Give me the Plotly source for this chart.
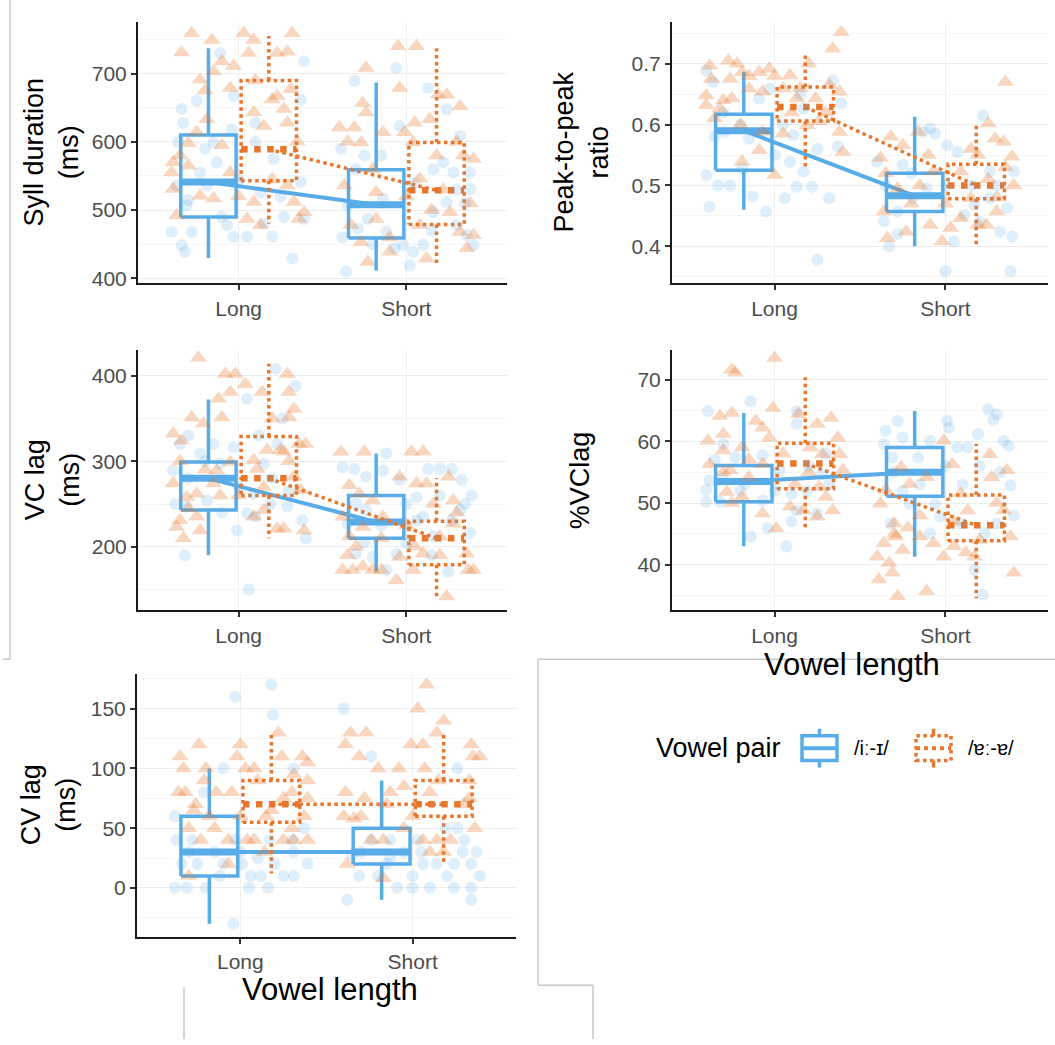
import plotly.graph_objects as go

W, H = 1055, 1045

categories = ["Long", "Short"]
pair_labels = ["/iː-ɪ/", "/ɐː-ɐ/"]

# ---------------- Syll duration (ms) ----------------
# points: (jitter, value)
syll_i_long = [(0.39,718),(-0.11,730),(-0.03,667),(-0.34,648),(-0.25,660),(-0.33,628),(-0.04,618),(0.10,628),
               (-0.13,570),(-0.23,555),(-0.37,536),(-0.31,507),(-0.40,468),(-0.34,449),(-0.32,439),(-0.28,468),
               (-0.07,478),(-0.03,461),(0.05,461),(0.20,461),(0.27,490),(0.32,429),(0.39,487),(0.37,541),
               (0.37,662),(0.21,575),(-0.15,599),(0.13,526),(-0.19,536),(-0.36,600),(-0.20,590),(0.00,545),
               (0.10,600),(0.25,520),(-0.30,515),(0.15,480),(-0.10,490)]
syll_e_long = [(-0.28,759),(-0.16,749),(-0.34,731),(0.03,759),(0.09,749),(0.32,759),(0.06,730),(0.23,730),
               (0.29,732),(-0.10,718),(-0.03,711),(-0.23,691),(-0.15,703),(-0.05,679),(0.31,677),(0.23,667),
               (0.20,662),(0.27,648),(0.09,643),(0.15,623),(0.29,628),(-0.39,570),(-0.35,580),(-0.30,565),
               (-0.39,531),(-0.37,492),(-0.23,521),(-0.15,517),(-0.05,555),(0.09,512),(0.05,487),(0.13,478),
               (0.33,512),(0.36,487),(0.39,497),(0.29,536),(-0.19,633),(-0.25,614),(-0.40,555),(-0.30,598),
               (0.00,520),(0.20,545),(0.35,600),(-0.10,595),(0.10,690),(-0.20,675)]
syll_i_short = [(-0.31,689),(-0.06,708),(0.13,679),(0.24,648),(-0.39,590),(-0.25,580),(-0.04,623),(0.22,570),
                (0.32,609),(0.16,560),(0.28,555),(0.38,555),(0.38,531),(-0.35,507),(-0.29,473),(-0.23,487),
                (-0.12,468),(-0.07,444),(-0.02,449),(0.04,439),(0.10,449),(0.16,497),(0.24,512),(0.30,478),
                (0.36,463),(0.40,449),(-0.36,410),(0.02,419),(-0.14,517),(-0.30,560),(-0.15,580),(0.05,540),
                (0.30,530),(-0.20,450),(0.15,470),(0.35,510),(-0.38,460)]
syll_e_short = [(-0.05,740),(0.06,740),(-0.24,708),(-0.04,679),(0.19,669),(0.24,669),(0.32,652),(-0.26,657),
                (-0.24,643),(-0.40,621),(-0.31,621),(-0.14,614),(-0.01,614),(0.05,628),(0.14,633),(-0.27,599),
                (0.04,599),(0.34,580),(0.40,575),(-0.37,536),(-0.18,526),(0.08,546),(0.18,580),(-0.33,478),
                (-0.27,453),(-0.23,424),(-0.10,439),(0.12,429),(0.08,478),(0.32,468),(0.36,444),(0.40,463),
                (0.26,497),(-0.18,487),(-0.35,600),(-0.20,560),(0.00,520),(0.15,500),(0.30,600),(-0.10,460),
                (0.22,530),(0.38,510)]
syll_i_lo, syll_i_q1, syll_i_med, syll_i_q3, syll_i_hi = [430, 411], [490, 459], [541, 508], [610, 559], [737, 687]
syll_e_lo, syll_e_q1, syll_e_med, syll_e_q3, syll_e_hi = [480, 419], [543, 479], [589, 529], [690, 599], [755, 737]

# ---------------- Peak-to-peak ratio ----------------
ptp_i_long = [(-0.40,0.689),(-0.36,0.670),(-0.40,0.517),(-0.38,0.465),(-0.33,0.500),(-0.26,0.500),(-0.29,0.588),
              (-0.19,0.528),(-0.13,0.482),(-0.05,0.457),(-0.15,0.577),(-0.09,0.643),(-0.03,0.659),(0.05,0.599),
              (0.11,0.583),(0.06,0.479),(0.13,0.498),(0.17,0.523),(0.22,0.498),(0.25,0.378),(0.32,0.479),
              (0.34,0.673),(0.39,0.635),(0.37,0.564),(0.09,0.539),(0.17,0.626),(-0.30,0.620),(-0.20,0.600),
              (0.00,0.550),(0.25,0.560),(-0.35,0.580),(0.15,0.650)]
ptp_e_long = [(-0.38,0.697),(-0.27,0.705),(-0.22,0.700),(-0.40,0.648),(-0.37,0.675),(-0.26,0.675),(-0.19,0.686),
              (-0.09,0.686),(-0.03,0.692),(0.09,0.681),(0.20,0.700),(0.39,0.752),(0.34,0.725),(-0.15,0.659),
              (-0.07,0.654),(0.05,0.659),(0.13,0.643),(0.24,0.643),(0.32,0.665),(0.38,0.654),(-0.40,0.632),
              (-0.32,0.626),(-0.25,0.643),(-0.07,0.588),(0.05,0.585),(0.19,0.599),(0.26,0.605),(0.38,0.588),
              (0.40,0.555),(0.00,0.517),(-0.19,0.539),(-0.09,0.558),(-0.35,0.610),(-0.30,0.640),(-0.15,0.680),
              (0.00,0.680),(0.15,0.660),(0.30,0.620),(-0.20,0.600),(0.10,0.620)]
ptp_i_short = [(-0.33,0.400),(-0.36,0.441),(-0.28,0.457),(-0.19,0.479),(-0.13,0.588),(-0.09,0.594),(-0.06,0.585),
               (0.01,0.566),(0.07,0.555),(0.22,0.615),(0.00,0.359),(0.38,0.359),(0.32,0.424),(0.39,0.416),
               (0.05,0.408),(0.11,0.452),(0.17,0.468),(0.26,0.479),(0.36,0.463),(0.40,0.523),(0.26,0.523),
               (-0.11,0.495),(-0.40,0.539),(-0.25,0.534),(-0.35,0.500),(-0.20,0.520),(0.00,0.500),(0.15,0.500),
               (0.30,0.500),(-0.28,0.420),(0.20,0.440)]
ptp_e_short = [(-0.38,0.545),(-0.32,0.580),(-0.25,0.566),(-0.16,0.588),(-0.36,0.457),(-0.34,0.413),(-0.23,0.424),
               (-0.09,0.435),(-0.02,0.408),(0.03,0.430),(0.09,0.446),(0.19,0.435),(0.24,0.435),(0.30,0.457),
               (0.35,0.670),(0.25,0.602),(0.29,0.577),(0.34,0.572),(0.39,0.547),(0.40,0.500),(0.19,0.550),
               (0.09,0.523),(-0.07,0.523),(-0.15,0.500),(-0.28,0.495),(0.15,0.479),(-0.35,0.520),(-0.20,0.470),
               (0.00,0.470),(0.25,0.510),(0.35,0.530),(-0.10,0.550),(0.15,0.560),(0.30,0.480)]
ptp_i_lo, ptp_i_q1, ptp_i_med, ptp_i_q3, ptp_i_hi = [0.460, 0.400], [0.525, 0.457], [0.590, 0.483], [0.617, 0.520], [0.687, 0.613]
ptp_e_lo, ptp_e_q1, ptp_e_med, ptp_e_q3, ptp_e_hi = [0.527, 0.400], [0.606, 0.478], [0.629, 0.500], [0.662, 0.535], [0.718, 0.599]

# ---------------- VC lag (ms) ----------------
vc_i_long = [(-0.39,289),(-0.35,320),(-0.30,330),(-0.38,250),(-0.31,247),(-0.32,190),(-0.23,309),(-0.15,320),
             (-0.11,297),(-0.03,316),(0.05,373),(0.22,408),(0.34,388),(0.26,350),(0.23,320),(0.15,297),
             (0.09,262),(0.05,239),(-0.01,219),(0.10,235),(0.19,250),(0.29,247),(0.38,231),(0.40,210),
             (0.06,150),(-0.19,254),(-0.30,280),(-0.20,300),(0.00,270),(0.20,280),(0.30,265),(-0.10,240),
             (0.12,330)]
vc_e_long = [(-0.24,421),(-0.08,402),(-0.02,402),(0.04,390),(-0.05,381),(-0.12,373),(-0.28,351),(-0.21,344),
             (-0.10,351),(-0.39,332),(-0.34,324),(0.14,381),(0.29,402),(0.30,381),(0.33,361),(0.30,351),
             (0.36,320),(0.40,320),(0.27,311),(0.17,313),(0.09,301),(-0.05,299),(-0.13,289),(-0.39,274),
             (-0.31,258),(-0.25,262),(-0.15,274),(-0.11,260),(-0.35,231),(-0.25,235),(-0.23,219),(-0.33,210),
             (-0.37,223),(0.09,235),(0.15,243),(0.23,221),(0.27,221),(0.39,219),(0.37,266),(0.33,282),
             (0.11,291),(0.25,313),(-0.35,300),(-0.20,290),(0.00,260),(0.15,270),(0.30,300),(-0.30,245),
             (0.20,350)]
vc_i_short = [(-0.38,293),(-0.31,291),(-0.24,282),(-0.12,309),(-0.14,289),(-0.04,278),(0.06,258),(0.13,291),
              (0.20,291),(0.27,291),(0.33,278),(0.39,260),(0.38,216),(0.25,171),(0.16,212),(0.10,235),
              (0.00,204),(-0.06,192),(-0.12,173),(-0.20,188),(-0.30,192),(-0.35,227),(-0.24,243),(0.06,231),
              (0.27,231),(0.32,243),(-0.30,250),(-0.15,225),(0.00,250),(0.20,260),(0.35,250),(-0.25,205),
              (0.15,190)]
vc_e_short = [(-0.39,311),(-0.25,311),(0.03,311),(0.10,311),(-0.34,272),(-0.28,262),(-0.20,254),(-0.04,282),
              (0.06,274),(0.12,274),(0.25,282),(0.28,254),(-0.38,235),(-0.34,212),(-0.26,223),(-0.14,235),
              (-0.38,173),(-0.32,173),(-0.26,177),(-0.20,173),(-0.15,173),(-0.04,188),(-0.06,161),(0.04,173),
              (0.24,142),(0.20,212),(0.28,227),(0.36,192),(0.37,173),(0.40,173),(0.16,250),(0.10,192),
              (-0.30,200),(-0.15,210),(0.00,225),(0.20,190),(0.30,240),(-0.35,190),(0.05,200)]
vc_i_lo, vc_i_q1, vc_i_med, vc_i_q3, vc_i_hi = [190, 171], [243, 210], [280, 229], [299, 260], [372, 309]
vc_e_lo, vc_e_q1, vc_e_med, vc_e_q3, vc_e_hi = [210, 140], [260, 179], [280, 210], [329, 230], [414, 280]

# ---------------- %VClag ----------------
pvc_i_long = [(-0.39,64.9),(-0.14,66.5),(-0.30,59.6),(-0.40,52.1),(-0.40,50.2),(-0.32,50.2),(-0.38,53.7),
              (-0.23,57.4),(-0.17,53.1),(-0.14,44.6),(-0.07,50.4),(-0.04,45.9),(0.07,43.0),(0.03,55.3),
              (0.10,51.5),(0.13,48.8),(0.13,64.9),(0.13,62.8),(0.19,52.0),(0.25,48.3),(0.28,54.7),
              (0.32,53.1),(-0.07,57.7),(-0.30,54.0),(-0.20,52.0),(0.00,52.0),(0.20,56.0),(0.30,58.0),
              (-0.35,57.0),(0.10,47.0)]
pvc_e_long = [(0.00,73.5),(-0.25,71.6),(-0.23,71.1),(-0.32,64.1),(-0.25,64.6),(-0.11,63.3),(-0.01,65.4),
              (0.14,64.4),(0.25,62.8),(0.33,63.8),(-0.39,60.1),(-0.30,61.2),(-0.19,59.0),(-0.07,62.2),
              (-0.03,60.6),(-0.38,56.3),(-0.26,55.3),(-0.15,54.2),(-0.07,56.3),(0.21,59.0),(0.28,57.9),
              (0.38,57.9),(0.40,55.3),(0.26,52.6),(0.34,48.8),(0.25,47.8),(0.17,48.8),(0.09,49.4),
              (0.01,45.9),(-0.07,48.3),(-0.28,51.8),(-0.19,51.0),(-0.30,58.5),(0.37,60.6),(-0.30,55.0),
              (-0.15,57.0),(0.05,58.0),(0.20,55.0),(0.30,51.0),(-0.25,50.0),(0.12,53.0)]
pvc_i_short = [(-0.35,61.7),(-0.28,63.3),(-0.36,59.6),(-0.31,57.4),(-0.25,60.6),(-0.16,57.4),(-0.09,60.1),
               (0.01,63.3),(0.02,62.2),(0.07,59.0),(0.13,59.0),(0.19,61.2),(0.25,65.2),(0.30,64.4),
               (0.28,63.5),(0.34,60.1),(0.37,59.3),(0.38,52.9),(0.40,48.0),(0.23,45.1),(0.17,39.2),
               (0.22,35.2),(-0.06,49.9),(-0.03,47.8),(-0.32,46.7),(-0.21,49.9),(-0.09,45.1),(0.09,46.7),
               (0.30,46.7),(-0.30,55.0),(-0.15,53.0),(0.00,56.0),(0.20,56.0),(0.32,55.0),(-0.25,52.0),
               (0.10,53.0)]
pvc_e_short = [(-0.28,34.9),(-0.11,35.7),(-0.39,37.6),(-0.31,38.7),(-0.40,41.3),(-0.33,40.3),(-0.36,43.5),
               (-0.29,44.6),(-0.25,42.4),(-0.30,46.7),(-0.38,49.9),(-0.35,52.1),(-0.21,53.1),(-0.26,55.8),
               (-0.11,54.2),(-0.01,60.1),(0.04,56.3),(-0.01,41.3),(-0.07,43.5),(0.05,43.0),(0.17,41.3),
               (0.26,57.9),(0.27,54.2),(0.36,55.3),(0.38,44.6),(0.40,38.7),(0.13,48.8),(0.09,51.5),
               (-0.15,44.6),(0.34,48.8),(-0.30,45.0),(-0.15,48.0),(0.05,47.0),(0.20,44.0),(0.30,50.0),
               (-0.22,46.0),(0.12,42.0)]
pvc_i_lo, pvc_i_q1, pvc_i_med, pvc_i_q3, pvc_i_hi = [43.0, 41.3], [50.2, 51.1], [53.5, 55.0], [56.1, 59.0], [64.6, 64.9]
pvc_e_lo, pvc_e_q1, pvc_e_med, pvc_e_q3, pvc_e_hi = [45.7, 34.6], [52.3, 43.9], [56.4, 46.4], [59.7, 51.3], [70.4, 59.6]

# ---------------- CV lag (ms) ----------------
cv_i_long = [(-0.03,160),(0.18,170),(0.19,145),(-0.10,100),(0.31,100),(-0.38,60),(-0.37,40),(-0.28,40),
             (-0.38,0),(-0.31,0),(-0.34,20),(-0.25,20),(-0.12,10),(-0.10,20),(-0.04,-30),(0.01,20),
             (0.05,0),(0.06,10),(0.12,10),(0.16,0),(0.25,10),(0.31,10),(0.39,20),(0.37,50),(0.17,40),
             (-0.21,80),(-0.03,40),(0.31,30),(-0.30,30),(-0.15,30),(0.00,30),(0.20,20),(0.30,40),
             (-0.20,0),(0.10,25)]
cv_e_long = [(-0.35,110),(-0.33,100),(-0.24,120),(-0.36,80),(-0.32,80),(-0.21,90),(-0.26,70),(-0.14,80),
             (-0.05,80),(0.00,120),(-0.02,110),(0.03,100),(0.08,100),(0.22,130),(0.24,110),(0.36,110),
             (0.39,105),(0.31,95),(0.39,90),(0.39,75),(0.37,60),(0.39,40),(0.31,40),(0.25,40),(0.08,40),
             (0.04,40),(-0.07,40),(-0.18,60),(-0.27,65),(-0.23,40),(-0.07,20),(-0.30,10),(0.14,30),
             (0.18,65),(0.25,75),(-0.30,50),(-0.15,50),(0.00,60),(0.15,60),(0.30,50),(-0.20,100),
             (0.10,90),(0.30,80)]
cv_i_short = [(-0.40,150),(-0.24,110),(-0.38,-10),(-0.31,10),(-0.24,40),(-0.13,40),(-0.09,0),(0.00,0),
              (0.00,10),(0.03,40),(0.06,20),(0.14,20),(0.19,50),(0.24,20),(0.24,0),(0.26,50),(0.29,30),
              (0.34,20),(0.34,0),(0.34,-10),(0.39,10),(0.37,30),(0.26,100),(-0.13,25),(-0.35,28),(-0.05,30),
              (-0.30,30),(-0.15,20),(0.05,30),(0.20,10),(0.30,40),(-0.20,10),(0.10,0)]
cv_e_short = [(0.08,170),(0.03,150),(0.18,140),(0.14,130),(-0.36,130),(-0.27,130),(-0.39,120),(-0.31,110),
              (-0.01,120),(0.06,120),(0.34,120),(0.35,110),(0.39,110),(-0.08,100),(0.07,100),(-0.39,80),
              (-0.28,75),(-0.13,80),(-0.05,85),(0.33,90),(0.36,50),(0.33,75),(-0.40,60),(-0.34,58),
              (-0.24,40),(-0.17,40),(0.06,40),(0.14,40),(0.22,40),(-0.38,20),(-0.17,8),(0.10,30),(0.18,30),
              (-0.30,60),(-0.15,70),(0.00,60),(0.15,90),(0.30,70),(-0.20,100),(0.10,80),(-0.05,50)]
cv_i_lo, cv_i_q1, cv_i_med, cv_i_q3, cv_i_hi = [-30, -10], [10, 20], [30, 30], [60, 50], [100, 90]
cv_e_lo, cv_e_q1, cv_e_med, cv_e_q3, cv_e_hi = [12, 20], [55, 60], [70, 70], [90, 90], [130, 130]

# ---------------- styling ----------------
BLUE = "#58ACE8"
ORANGE = "#E8762C"
FONT = "Liberation Sans, Arial, sans-serif"
DODGE = 0.18
HALF_W = 0.165


def px(x):
    return x / W


def py(y):
    return 1 - y / H


panels = [
    dict(title="Syll duration<br>(ms)", dom=(138, 507, 22, 285), rng=[392.7, 775.7], dtick=100, minor=50,
         tx=52, pts=(syll_i_long, syll_i_short, syll_e_long, syll_e_short),
         bi=(syll_i_lo, syll_i_q1, syll_i_med, syll_i_q3, syll_i_hi),
         be=(syll_e_lo, syll_e_q1, syll_e_med, syll_e_q3, syll_e_hi)),
    dict(title="Peak-to-peak<br>ratio", dom=(672, 1048, 22, 285), rng=[0.339, 0.769], dtick=0.1, minor=0.05,
         tx=582, pts=(ptp_i_long, ptp_i_short, ptp_e_long, ptp_e_short),
         bi=(ptp_i_lo, ptp_i_q1, ptp_i_med, ptp_i_q3, ptp_i_hi),
         be=(ptp_e_lo, ptp_e_q1, ptp_e_med, ptp_e_q3, ptp_e_hi)),
    dict(title="VC lag<br>(ms)", dom=(138, 507, 352, 614), rng=[125.6, 430], dtick=100, minor=50,
         tx=52, pts=(vc_i_long, vc_i_short, vc_e_long, vc_e_short),
         bi=(vc_i_lo, vc_i_q1, vc_i_med, vc_i_q3, vc_i_hi),
         be=(vc_e_lo, vc_e_q1, vc_e_med, vc_e_q3, vc_e_hi)),
    dict(title="%VClag", dom=(672, 1048, 352, 614), rng=[32.6, 74.8], dtick=10, minor=5,
         tx=580, pts=(pvc_i_long, pvc_i_short, pvc_e_long, pvc_e_short),
         bi=(pvc_i_lo, pvc_i_q1, pvc_i_med, pvc_i_q3, pvc_i_hi),
         be=(pvc_e_lo, pvc_e_q1, pvc_e_med, pvc_e_q3, pvc_e_hi)),
    dict(title="CV lag<br>(ms)", dom=(137, 516, 678, 942), rng=[-40.8, 179], dtick=50, minor=25,
         tx=48, pts=(cv_i_long, cv_i_short, cv_e_long, cv_e_short),
         bi=(cv_i_lo, cv_i_q1, cv_i_med, cv_i_q3, cv_i_hi),
         be=(cv_e_lo, cv_e_q1, cv_e_med, cv_e_q3, cv_e_hi)),
]

fig = go.Figure()
layout = dict(width=W, height=H, margin=dict(l=0, r=0, t=0, b=0), showlegend=False,
              plot_bgcolor="white", paper_bgcolor="white", font=dict(family=FONT))
annotations = []
shapes = []


def box_xy(xc, lo, q1, q3, hi):
    xs = [xc - HALF_W, xc + HALF_W, xc + HALF_W, xc - HALF_W, xc - HALF_W, None, xc, xc, None, xc, xc]
    ys = [q1, q1, q3, q3, q1, None, q3, hi, None, q1, lo]
    return xs, ys


for i, p in enumerate(panels, start=1):
    xa, ya = f"x{i}", f"y{i}"
    x0, x1, y0, y1 = p["dom"]
    layout[f"xaxis{i}"] = dict(
        domain=[px(x0), px(x1)], anchor=ya, range=[0.4, 2.6], tickvals=[1, 2], ticktext=categories,
        showline=True, linecolor="#1a1a1a", linewidth=2, ticks="outside", ticklen=5, tickwidth=2,
        tickcolor="#333333", tickfont=dict(size=21, color="#4D4D4D", family=FONT),
        showgrid=True, gridcolor="#F0F0F0", gridwidth=1, zeroline=False, fixedrange=True)
    layout[f"yaxis{i}"] = dict(
        domain=[py(y1), py(y0)], anchor=xa, range=p["rng"], dtick=p["dtick"], tick0=0,
        showline=True, linecolor="#1a1a1a", linewidth=2, ticks="outside", ticklen=5, tickwidth=2,
        tickcolor="#333333", tickfont=dict(size=21, color="#4D4D4D", family=FONT),
        showgrid=True, gridcolor="#EDEDED", gridwidth=1, zeroline=False,
        minor=dict(dtick=p["minor"], tick0=0, showgrid=True, gridcolor="#F6F6F6", gridwidth=1),
        fixedrange=True)
    annotations.append(dict(text=p["title"], x=px(p["tx"]), y=py((y0 + y1) / 2), xref="paper", yref="paper",
                            textangle=-90, showarrow=False, xanchor="center", yanchor="middle",
                            font=dict(size=27, color="black", family=FONT)))

    i_long, i_short, e_long, e_short = p["pts"]
    groups = [
        (p["bi"], -DODGE, BLUE, "solid", 3.5, 7, 4),
        (p["be"], DODGE, ORANGE, "dot", 3.5, 6.5, 3.5),
    ]
    for stats, off, col, dash, lw, mw, cw in groups:
        lo, q1, med, q3, hi = stats
        for k in range(2):
            xc = k + 1 + off
            bx, by = box_xy(xc, lo[k], q1[k], q3[k], hi[k])
            fig.add_trace(go.Scatter(x=bx, y=by, mode="lines", xaxis=xa, yaxis=ya, hoverinfo="skip",
                                     line=dict(color=col, width=lw, dash=dash)))
            fig.add_trace(go.Scatter(x=[xc - HALF_W, xc + HALF_W], y=[med[k], med[k]], mode="lines",
                                     xaxis=xa, yaxis=ya, hoverinfo="skip",
                                     line=dict(color=col, width=mw, dash=dash)))
        fig.add_trace(go.Scatter(x=[1 + off, 2 + off], y=med, mode="lines", xaxis=xa, yaxis=ya,
                                 hoverinfo="skip", line=dict(color=col, width=cw, dash=dash)))
    for pts_long, pts_short, col, sym, size, op in [
        (i_long, i_short, BLUE, "circle", 12, 0.2),
        (e_long, e_short, ORANGE, "triangle-up", 15, 0.3),
    ]:
        xs = [1 + j for j, v in pts_long] + [2 + j for j, v in pts_short]
        ys = [v for j, v in pts_long] + [v for j, v in pts_short]
        fig.add_trace(go.Scatter(x=xs, y=ys, mode="markers", xaxis=xa, yaxis=ya, hoverinfo="skip",
                                 marker=dict(symbol=sym, size=size, color=col, opacity=op,
                                             line=dict(width=0))))

# x-axis titles
for cx, cy in [(852, 668), (330, 995)]:
    annotations.append(dict(text="Vowel length", x=px(cx), y=py(cy), xref="paper", yref="paper",
                            showarrow=False, xanchor="center", yanchor="middle",
                            font=dict(size=31, color="black", family=FONT)))

# legend (drawn manually)
annotations.append(dict(text="Vowel pair", x=px(783), y=py(752), xref="paper", yref="paper", showarrow=False,
                        xanchor="right", yanchor="middle", font=dict(size=27, color="black", family=FONT)))
for gx, col, dash, lab in [(802, BLUE, "solid", pair_labels[0]), (916, ORANGE, "dot", pair_labels[1])]:
    gw = 35
    shapes.append(dict(type="rect", xref="paper", yref="paper", x0=px(gx), x1=px(gx + gw),
                       y0=py(765), y1=py(740), line=dict(color=col, width=3.5, dash=dash)))
    shapes.append(dict(type="line", xref="paper", yref="paper", x0=px(gx), x1=px(gx + gw),
                       y0=py(752.5), y1=py(752.5), line=dict(color=col, width=4, dash=dash)))
    shapes.append(dict(type="line", xref="paper", yref="paper", x0=px(gx + gw / 2), x1=px(gx + gw / 2),
                       y0=py(733), y1=py(740), line=dict(color=col, width=3.5)))
    shapes.append(dict(type="line", xref="paper", yref="paper", x0=px(gx + gw / 2), x1=px(gx + gw / 2),
                       y0=py(765), y1=py(772), line=dict(color=col, width=3.5)))
    annotations.append(dict(text=lab, x=px(gx + gw + 15), y=py(752), xref="paper", yref="paper",
                            showarrow=False, xanchor="left", yanchor="middle",
                            font=dict(size=20, color="black", family=FONT)))

# frame lines of the composed figure
frame = [((10, 0), (10, 663)), ((3, 663), (10, 663)), ((538, 663), (1055, 663)), ((538, 663), (538, 991)),
         ((538, 991), (593, 991)), ((593, 991), (593, 1045)), ((184, 993), (184, 1045))]
for (ax, ay), (bx, by) in frame:
    shapes.append(dict(type="line", xref="paper", yref="paper", x0=px(ax), y0=py(ay), x1=px(bx), y1=py(by),
                       line=dict(color="#C8C8C8", width=1.5)))

layout["annotations"] = annotations
layout["shapes"] = shapes
fig.update_layout(**layout)
fig.write_html("out.html")
